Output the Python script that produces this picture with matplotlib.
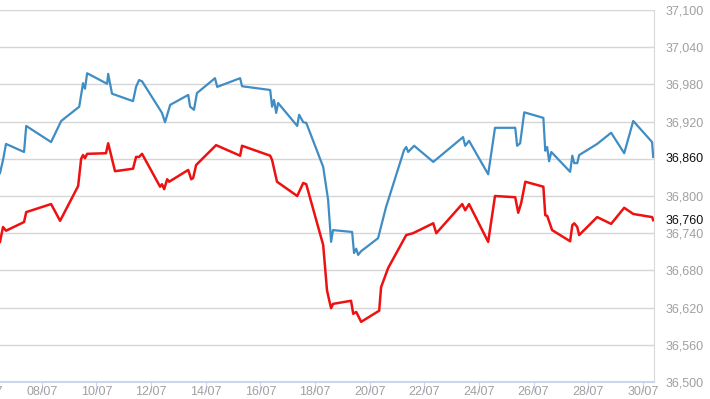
import matplotlib.pyplot as plt
import matplotlib.transforms as mtransforms

plt.rcParams['font.family'] = ['Liberation Sans', 'DejaVu Sans']

# day of July (fractional) and price
blue_day = [6.47, 6.58, 6.69, 7.35, 7.43, 8.34, 8.71, 9.37, 9.51, 9.58, 9.66, 10.39, 10.43, 10.57,
            11.34, 11.45, 11.56, 11.67, 12.40, 12.51, 12.70, 13.36, 13.43, 13.57, 13.68, 14.34,
            14.42, 15.26, 15.33, 16.36, 16.43, 16.50, 16.58, 16.65, 17.35, 17.42, 17.57, 17.68,
            18.30, 18.48, 18.59, 18.66, 19.36, 19.43, 19.51, 19.58, 19.69, 20.31, 20.60, 21.26,
            21.34, 21.41, 21.63, 22.33, 23.42, 23.50, 23.64, 24.34, 24.59, 24.70, 25.33, 25.40,
            25.51, 25.66, 26.36, 26.43, 26.50, 26.57, 26.65, 27.34, 27.42, 27.49, 27.60, 27.67,
            28.33, 28.84, 29.32, 29.65, 30.34, 30.38]
blue_val = [36837, 36858, 36884, 36871, 36913, 36887, 36921, 36944, 36982, 36973, 36998, 36981,
            36997, 36965, 36953, 36976, 36987, 36985, 36934, 36919, 36947, 36963, 36944, 36939,
            36966, 36990, 36976, 36990, 36977, 36971, 36944, 36955, 36934, 36950, 36913, 36931,
            36919, 36918, 36847, 36794, 36726, 36745, 36742, 36708, 36715, 36705, 36711, 36732,
            36782, 36874, 36879, 36871, 36881, 36855, 36895, 36881, 36889, 36835, 36910, 36910,
            36910, 36881, 36885, 36935, 36926, 36873, 36879, 36856, 36871, 36839, 36865, 36853,
            36853, 36866, 36884, 36902, 36869, 36921, 36887, 36863]

red_day = [6.47, 6.58, 6.69, 7.35, 7.43, 8.34, 8.67, 9.33, 9.44, 9.51, 9.58, 9.66, 10.35, 10.43,
           10.68, 11.34, 11.45, 11.56, 11.67, 12.33, 12.40, 12.48, 12.59, 12.66, 13.36, 13.47,
           13.54, 13.65, 14.38, 15.26, 15.33, 16.36, 16.43, 16.61, 17.35, 17.57, 17.68, 18.30,
           18.44, 18.52, 18.59, 18.66, 19.32, 19.40, 19.51, 19.69, 20.35, 20.42, 20.68, 21.34,
           21.59, 22.33, 22.44, 23.39, 23.50, 23.64, 24.34, 24.59, 25.33, 25.44, 25.55, 25.70,
           26.36, 26.43, 26.50, 26.68, 27.34, 27.42, 27.49, 27.60, 27.67, 28.33, 28.84, 29.32,
           29.65, 30.34, 30.38]
red_val = [36726, 36750, 36744, 36758, 36774, 36787, 36760, 36816, 36860, 36866, 36861, 36868,
           36869, 36885, 36840, 36844, 36863, 36863, 36868, 36815, 36819, 36811, 36827, 36823,
           36842, 36827, 36829, 36850, 36882, 36865, 36881, 36865, 36858, 36823, 36800, 36821,
           36819, 36721, 36648, 36632, 36619, 36626, 36631, 36610, 36613, 36597, 36615, 36653,
           36684, 36737, 36740, 36756, 36740, 36787, 36777, 36787, 36726, 36800, 36798, 36773,
           36789, 36823, 36815, 36769, 36768, 36745, 36727, 36753, 36756, 36750, 36737, 36766,
           36755, 36781, 36771, 36766, 36761]

y_ticks = [36500, 36560, 36620, 36680, 36740, 36800, 36860, 36920, 36980, 37040, 37100]
x_ticks = [8, 10, 12, 14, 16, 18, 20, 22, 24, 26, 28, 30]
last_blue = 36860
last_red = 36760

fig = plt.figure(figsize=(7.1, 3.99), dpi=100)
ax = fig.add_axes([0, 17 / 399, 654 / 710, 372 / 399])

ax.plot(blue_day, blue_val, color='#3f8dc4', lw=1.6, zorder=3)
ax.plot(red_day, red_val, color='#ee1111', lw=1.8, zorder=3)

ax.set_xlim(6.47, 30.41)
ax.set_ylim(36500, 37100)

ax.set_yticks(y_ticks)
ax.set_yticklabels(['{:,}'.format(v) for v in y_ticks])
ax.yaxis.tick_right()
ax.tick_params(axis='y', length=0, pad=8, labelsize=9, labelcolor='#a0a0a0')
ax.grid(axis='y', color='#d6d6d6', lw=1)

ax.set_xticks(x_ticks)
ax.set_xticklabels(['%02d/07' % d for d in x_ticks])
ax.tick_params(axis='x', length=7, color='#ccd6eb', pad=-4, labelsize=9, labelcolor='#a0a0a0')

for s in ['top', 'left']:
    ax.spines[s].set_visible(False)
ax.spines['right'].set_color('#d9d9d9')
ax.spines['bottom'].set_color('#ccd6eb')
ax.spines['bottom'].set_linewidth(1.5)

# partial label at the left edge
trans = mtransforms.blended_transform_factory(ax.transData, ax.transAxes)
ax.text(6, -0.01, '06/07', transform=trans, ha='center', va='top', fontsize=9,
        color='#a0a0a0', clip_on=False)

# current value labels
ytrans = ax.get_yaxis_transform()
ax.text(1.017, last_blue, '{:,}'.format(last_blue), transform=ytrans, va='center', ha='left',
        fontsize=9, color='#111111', zorder=5,
        bbox=dict(facecolor='white', edgecolor='none', pad=0.5))
ax.text(1.017, last_red, '{:,}'.format(last_red), transform=ytrans, va='center', ha='left',
        fontsize=9, color='#111111', zorder=5,
        bbox=dict(facecolor='white', edgecolor='none', pad=0.5))

fig.savefig('out.png', dpi=100)
